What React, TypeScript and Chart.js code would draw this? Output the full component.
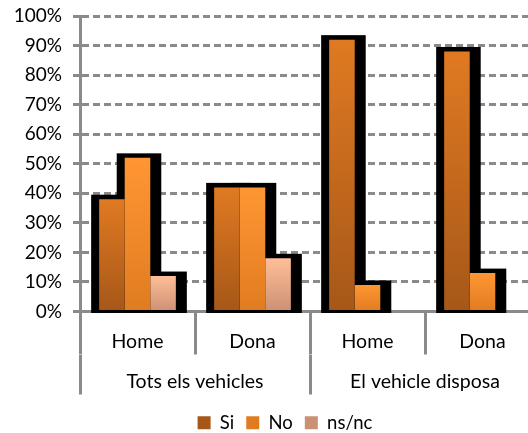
import React, { useEffect, useRef } from "react";
import { Chart, registerables } from "chart.js";

Chart.register(...registerables);

const categories = ["Home", "Dona", "Home", "Dona"];
const groups = ["Tots els vehicles", "El vehicle disposa"];
const seriesNames = ["Si", "No", "ns/nc"];
const siValues = [38, 42, 92, 88];
const noValues = [52, 42, 9, 13];
const nsncValues: (number | null)[] = [12, 18, null, null];
const yTicks = [0, 10, 20, 30, 40, 50, 60, 70, 80, 90, 100];

const gradStops: [string, string][] = [
  ["#E07A22", "#A65718"],
  ["#FF9633", "#E07C20"],
  ["#FFBE99", "#CB9173"],
];
const flatColors = ["#C0661D", "#F28A2A", "#E8AC8C"];

const FONT = "Lato, 'DejaVu Sans', sans-serif";

const shadowPlugin = {
  id: "barShadow",
  beforeDatasetsDraw(chart: any) {
    const ctx = chart.ctx;
    ctx.save();
    ctx.fillStyle = "#000";
    chart.data.datasets.forEach((ds: any, di: number) => {
      const meta = chart.getDatasetMeta(di);
      meta.data.forEach((el: any, i: number) => {
        const v = ds.data[i];
        if (v === null || v === undefined) return;
        const { x, y, base, width } = el.getProps(["x", "y", "base", "width"], true);
        const x0 = x - width / 2;
        const x1 = x + width / 2;
        ctx.fillRect(x0 - 8, y - 4.5, x1 - x0 + 19, base + 3 - (y - 4.5));
      });
    });
    ctx.restore();
  },
};

function makeBg(si: number) {
  return (c: any) => {
    if (c.type !== "data" || c.raw === null || c.raw === undefined) return flatColors[si];
    const chart = c.chart;
    const ys = chart.scales && chart.scales.y;
    if (!ys) return flatColors[si];
    const top = ys.getPixelForValue(c.raw);
    const bot = ys.getPixelForValue(0);
    if (!isFinite(top) || !isFinite(bot) || top === bot) return flatColors[si];
    const g = chart.ctx.createLinearGradient(0, top, 0, bot);
    g.addColorStop(0, gradStops[si][0]);
    g.addColorStop(1, gradStops[si][1]);
    return g;
  };
}

export default function App() {
  const ref = useRef<HTMLCanvasElement | null>(null);
  useEffect(() => {
    if (!ref.current) return;
    const chart = new Chart(ref.current, {
      type: "bar",
      data: {
        labels: categories,
        datasets: [siValues, noValues, nsncValues].map((d, i) => ({
          label: seriesNames[i],
          data: d,
          backgroundColor: makeBg(i),
          borderWidth: 0,
          categoryPercentage: 0.667,
          barPercentage: 1,
          xAxisID: "x",
        })),
      },
      options: {
        responsive: false,
        animation: false,
        devicePixelRatio: 1,
        layout: { padding: { top: 16, left: 0, right: 0, bottom: -9 } },
        plugins: {
          tooltip: { enabled: false },
          legend: {
            position: "bottom",
            labels: {
              boxWidth: 13,
              boxHeight: 13,
              padding: 12,
              color: "#000",
              font: { family: FONT, size: 18.5 },
            },
          },
        },
        scales: {
          y: {
            min: 0,
            max: 100,
            afterBuildTicks: (s: any) => {
              s.ticks = yTicks.map((v) => ({ value: v }));
            },
            afterFit: (s: any) => {
              s.width = 80;
              s.paddingTop = 0;
              s.paddingBottom = 0;
            },
            ticks: {
              callback: (v: any) => v + "%",
              padding: 11,
              color: "#000",
              font: { family: FONT, size: 19 },
            },
            grid: {
              color: "#8a8a8a",
              lineWidth: 3,
              tickLength: 7,
              tickColor: "#8a8a8a",
              tickWidth: 3,
            },
            border: { display: true, color: "#8a8a8a", width: 3, dash: [7, 4] },
          },
          yR: {
            position: "right",
            display: true,
            grid: { display: false, drawTicks: false },
            ticks: { display: false },
            border: { display: false },
            afterFit: (s: any) => {
              s.width = 30;
              s.paddingTop = 0;
              s.paddingBottom = 0;
            },
          },
          x: {
            type: "category",
            position: "bottom",
            offset: true,
            grid: {
              offset: true,
              drawOnChartArea: false,
              drawTicks: true,
              tickLength: 43,
              color: "#8a8a8a",
              lineWidth: 3,
            },
            border: { display: true, color: "#8a8a8a", width: 3 },
            ticks: {
              padding: -24,
              color: "#000",
              font: { family: FONT, size: 19.5 },
              maxRotation: 0,
              autoSkip: false,
            },
            afterFit: (s: any) => {
              s.height = 43;
            },
          },
          x2: {
            type: "category",
            position: "bottom",
            labels: groups,
            offset: true,
            grid: {
              offset: true,
              drawOnChartArea: false,
              drawTicks: true,
              tickLength: 40,
              color: "#8a8a8a",
              lineWidth: 3,
            },
            border: { display: false },
            ticks: {
              padding: -24,
              color: "#000",
              font: { family: FONT, size: 19.5 },
              maxRotation: 0,
              autoSkip: false,
            },
            afterFit: (s: any) => {
              s.height = 47;
            },
          },
        },
      } as any,
      plugins: [shadowPlugin],
    });
    return () => chart.destroy();
  }, []);
  return (
    <div
      style={{
        position: "absolute",
        left: 0,
        top: 0,
        width: 528,
        height: 433,
        overflow: "hidden",
        background: "#fff",
      }}
    >
      <canvas ref={ref} width={570} height={433} style={{ display: "block" }} />
    </div>
  );
}
